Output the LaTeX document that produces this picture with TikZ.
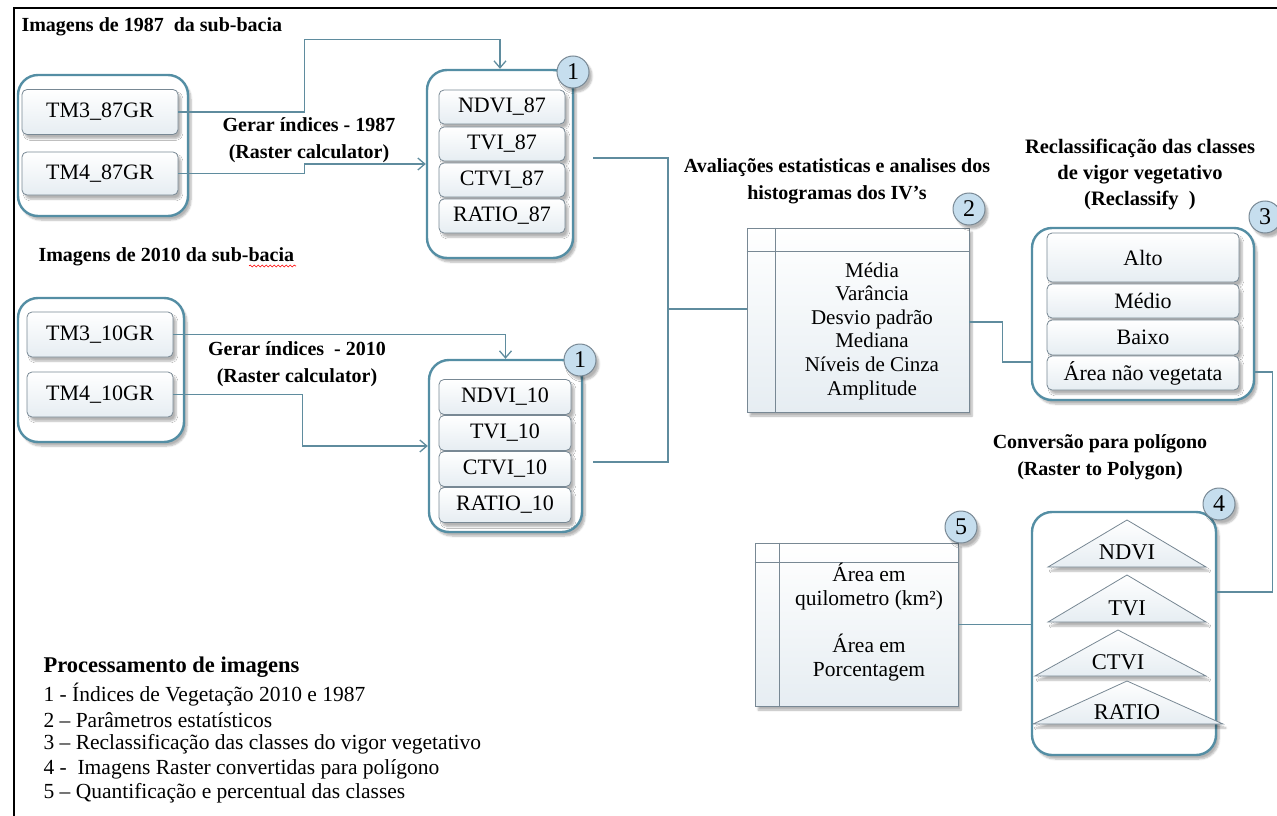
\documentclass[tikz,border=0pt]{standalone}
\usepackage{fontspec}
\setmainfont{Liberation Serif}
\usetikzlibrary{arrows.meta,shadows.blur,decorations.pathmorphing}

\definecolor{grpazul}{RGB}{84,142,164}
\definecolor{linha}{RGB}{95,140,158}
\definecolor{caixa}{RGB}{120,136,148}
\definecolor{fundo}{RGB}{230,237,242}
\definecolor{numazul}{RGB}{198,222,238}

\tikzset{
  sombra/.style={blur shadow={shadow xshift=3pt, shadow yshift=-4pt, shadow blur steps=6, shadow opacity=30}},
  grupo/.style={draw=grpazul, line width=2.4pt, rounded corners=20pt, fill=white, sombra},
  item/.style={draw=caixa, line width=0.8pt, rounded corners=5pt, top color=white, bottom color=fundo,
    inner sep=0pt, font=\fontsize{22}{24}\selectfont, sombra},
  tabela/.style={draw=caixa, line width=0.8pt, top color=white, bottom color=fundo, sombra},
  tri/.style={draw=caixa, line width=0.8pt, top color=white, bottom color=fundo, sombra},
  num/.style={circle, draw=caixa, line width=1pt, fill=numazul, minimum size=32pt, inner sep=0pt,
    font=\fontsize{24}{24}\selectfont, sombra},
  conn/.style={draw=linha, line width=1.3pt},
  seta/.style={-{Straight Barb[length=7pt,width=12pt]}},
  titulo/.style={font=\fontsize{20}{27}\selectfont\bfseries, align=center},
  texto/.style={font=\fontsize{21.5}{23.6}\selectfont, align=center},
  legenda/.style={anchor=west, font=\fontsize{21.5}{24}\selectfont},
}

\begin{document}
\begin{tikzpicture}[x=1pt,y=-1pt]
  \useasboundingbox (0,0) rectangle (1277,816);

  % moldura
  \draw[line width=2pt] (14,816) -- (14,8) -- (1277,8);

  % imagens de 1987
  \node[titulo, anchor=west] (t87) at (18,27) {Imagens de 1987\ \ da sub-bacia};
  \node[grupo, minimum width=170pt, minimum height=141pt] (g87) at (103,145.5) {};
  \node[item, minimum width=156pt, minimum height=45pt] (tm387) at (100,112) {TM3\_87GR};
  \node[item, minimum width=156pt, minimum height=43pt] (tm487) at (100,173.5) {TM4\_87GR};

  % indices 1987
  \node[grupo, minimum width=146pt, minimum height=188pt] (ind87) at (500,164) {};
  \foreach \nome/\y in {NDVI/107, TVI/144, CTVI/180, RATIO/216}
    \node[item, minimum width=126pt, minimum height=34pt] (\nome87) at (502,\y) {\nome\_87};
  \node[num] (n187) at (573,72) {1};

  \draw[conn, seta] (tm387.east) -- ++(126,0) |- ([yshift=29pt]ind87.north) -- (ind87.north);
  \draw[conn, seta] (tm487.east) -- ++(126,0) |- (ind87.west);
  \node[titulo] (calc87) at (309,140) {Gerar índices - 1987\\(Raster calculator)};

  % imagens de 2010
  \node[titulo, anchor=west] (t10) at (35,257) {Imagens de 2010 da sub-bacia};
  \draw[red, line width=0.6pt, decorate, decoration={snake, amplitude=1pt, segment length=4pt}] (249,266) -- (296,266);
  \node[grupo, minimum width=166pt, minimum height=144pt] (g10) at (101,370) {};
  \node[item, minimum width=146pt, minimum height=45pt] (tm310) at (100,334.5) {TM3\_10GR};
  \node[item, minimum width=146pt, minimum height=45pt] (tm410) at (100,394.5) {TM4\_10GR};

  % indices 2010
  \node[grupo, minimum width=153pt, minimum height=172pt] (ind10) at (505.5,446) {};
  \foreach \nome/\y in {NDVI/397, TVI/433, CTVI/469, RATIO/505}
    \node[item, minimum width=132pt, minimum height=35pt] (\nome10) at (505,\y) {\nome\_10};
  \node[num] (n110) at (580,360) {1};

  \draw[conn, seta] (tm310.east) -| (ind10.north);
  \draw[conn, seta] (tm410.east) -- ++(129,0) |- (ind10.west);
  \node[titulo] (calc10) at (297,364) {Gerar índices\ \ - 2010\\(Raster calculator)};

  % estatisticas
  \node[titulo] (h2) at (837,181) {Avaliações estatisticas e analises dos\\histogramas dos IV's};
  \node[tabela, minimum width=222pt, minimum height=184pt] (box2) at (858,320) {};
  \draw[caixa, line width=0.8pt] ([yshift=-24pt]box2.north west) -- ([yshift=-24pt]box2.north east);
  \draw[caixa, line width=0.8pt] ([xshift=29pt]box2.north west) -- ([xshift=29pt]box2.south west);
  \node[texto, font=\fontsize{21}{23.6}\selectfont] (est) at (872,331) {Média\\Varância\\Desvio padrão\\Mediana\\Níveis de Cinza\\Amplitude};
  \node[num] (n2) at (969,209) {2};

  \coordinate (j1) at (668,309);
  \draw[conn] ([xshift=19pt,yshift=6pt]ind87.east) -| (j1) -- (j1 -| box2.west);
  \draw[conn] ([xshift=10pt,yshift=-16pt]ind10.east) -| (j1);

  % reclassificacao
  \node[titulo, font=\fontsize{20.5}{26}\selectfont\bfseries] (h3) at (1140,174) {Reclassificação das classes\\de vigor vegetativo\\(Reclassify\ \ )};
  \node[grupo, minimum width=222pt, minimum height=172pt] (box3) at (1143,314) {};
  \node[item, minimum width=192pt, minimum height=49pt] (alto) at (1143,257.5) {Alto};
  \node[item, minimum width=192pt, minimum height=34pt] (medio) at (1143,301) {Médio};
  \node[item, minimum width=192pt, minimum height=35pt] (baixo) at (1143,337.5) {Baixo};
  \node[item, minimum width=192pt, minimum height=34pt] (naoveg) at (1143,373) {Área não vegetata};
  \node[num] (n3) at (1265,217) {3};

  \draw[conn] ([yshift=-2pt]box2.east) -- ++(33,0) |- ([yshift=-48pt]box3.west);

  % conversao para poligono
  \node[titulo] (h4) at (1100,457) {Conversão para polígono\\(Raster to Polygon)};
  \node[grupo, minimum width=184pt, minimum height=243pt] (box4) at (1124,633.5) {};
  \path[tri] (1048,567) -- (1127,520) -- (1206,567) -- cycle;
  \path[tri] (1048,622) -- (1127,575) -- (1206,622) -- cycle;
  \path[tri] (1035,676) -- (1118,630) -- (1206,676) -- cycle;
  \path[tri] (1033,724) -- (1127,681) -- (1223,724) -- cycle;
  \node[texto, font=\fontsize{22.5}{24}\selectfont] (pndvi) at (1127,552) {NDVI};
  \node[texto, font=\fontsize{22.5}{24}\selectfont] (ptvi) at (1127,608) {TVI};
  \node[texto, font=\fontsize{22.5}{24}\selectfont] (pctvi) at (1118,662) {CTVI};
  \node[texto, font=\fontsize{22.5}{24}\selectfont] (pratio) at (1127,712) {RATIO};
  \node[num] (n4) at (1219,504) {4};

  \draw[conn] ([yshift=-58pt]box3.east) -- ++(17,0) |- ([yshift=41.5pt]box4.east);

  % quantificacao
  \node[tabela, minimum width=203pt, minimum height=163pt] (box5) at (856.5,624.5) {};
  \draw[caixa, line width=0.8pt] ([yshift=-20pt]box5.north west) -- ([yshift=-20pt]box5.north east);
  \draw[caixa, line width=0.8pt] ([xshift=25pt]box5.north west) -- ([xshift=25pt]box5.south west);
  \node[texto] (area) at (869,622) {Área em\\quilometro (km²)\\[24pt]Área em\\Porcentagem};
  \node[num] (n5) at (961,527) {5};

  \draw[conn] (box5.east) -- (box5.east -| box4.west);

  % legenda
  \node[legenda, font=\fontsize{22.5}{24}\selectfont\bfseries] (leg) at (40,667) {Processamento de imagens};
  \foreach \y/\txt in {695/1 - Índices de Vegetação 2010 e 1987,
                       720/2 – Parâmetros estatísticos,
                       744/3 – Reclassificação das classes do vigor vegetativo,
                       769/4 -\ \ Imagens Raster convertidas para polígono,
                       793/5 – Quantificação e percentual das classes}
    \node[legenda] (leg\y) at (40,\y) {\txt};
\end{tikzpicture}
\end{document}
